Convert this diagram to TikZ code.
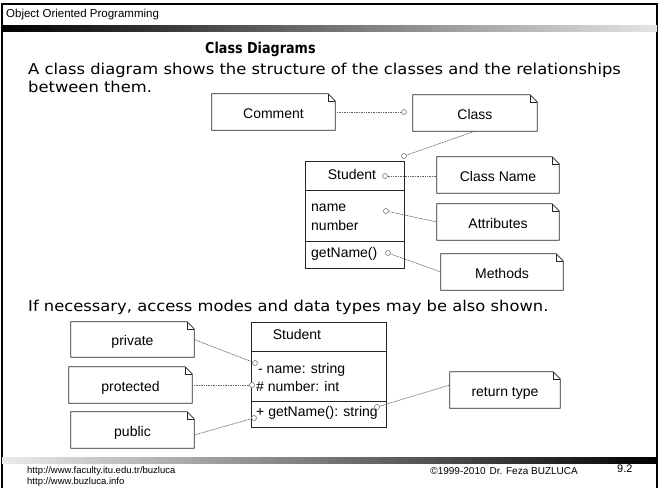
\documentclass[tikz,border=0pt]{standalone}
\usepackage{fontspec}
\setmainfont{Liberation Sans}
\newfontfamily\bodyfont[FakeStretch=1.09]{DejaVu Sans}
\newfontfamily\titlefont[FakeStretch=0.85]{DejaVu Sans}
\newcommand\umlnote[6]{%
  \node[diag, text height=12pt, text depth=0pt, minimum width={#4-#2}, minimum height={#5-#3}] (#1) at ({(#2+#4)/2},{(#3+#5)/2}) {#6};
  \draw[noteline] (#1.north west) -- ([xshift=-7pt]#1.north east) -- ([yshift=-7pt]#1.north east) -- (#1.south east) -- (#1.south west) -- cycle;
  \draw[noteline, line width=0.5pt] ([xshift=-7pt]#1.north east) -- ([xshift=-7pt,yshift=-7pt]#1.north east) -- ([yshift=-7pt]#1.north east);
}
\begin{document}
\begin{tikzpicture}[x=1pt,y=-1pt,
  diag/.style={font=\fontsize{14pt}{16pt}\selectfont, inner sep=0pt},
  noteline/.style={draw=black!85, line width=0.8pt},
  conn/.style={draw=black!60, line width=0.7pt, dash pattern=on 1pt off 0.7pt},
  port/.style={circle, draw=black!60, line width=0.5pt, fill=white, inner sep=0pt, minimum size=5pt},
  classbox/.style={draw=black!85, line width=0.8pt, inner sep=0pt},
  body/.style={font=\bodyfont\fontsize{15pt}{17pt}\selectfont, inner sep=0pt, anchor=west},
  foot/.style={font=\fontsize{9.5pt}{11pt}\selectfont, inner sep=0pt}]
\useasboundingbox[fill=white] (0,0) rectangle (665,488);
% frame and bars
\draw[line width=2pt] (2,488) -- (2,4) -- (657,4) -- (657,488);
\shade[left color=black, right color=black!10] (2,25) rectangle (657,31);
\shade[left color=black!8, right color=black] (2,457) rectangle (657,463);
\node[anchor=west, inner sep=0pt, font=\fontsize{11.5pt}{13pt}\selectfont] (hdr) at (6,15) {Object Oriented Programming};
% title and body text
\node[anchor=west, inner sep=0pt, font=\titlefont\bfseries\fontsize{15pt}{17pt}\selectfont] (title) at (205,49) {Class Diagrams};
\node[body] (line1) at (28,70) {A class diagram shows the structure of the classes and the relationships};
\node[body] (line2) at (28,87) {between them.};
\node[body] (line3) at (28,307) {If necessary, access modes and data types may be also shown.};
% top diagram
\umlnote{cmt}{212}{94}{335}{130}{Comment}
\umlnote{cls}{413}{95}{537}{131}{Class}
\umlnote{cname}{437}{157}{559}{193}{Class Name}
\umlnote{attrs}{437}{204}{559}{240}{Attributes}
\umlnote{meths}{441}{254}{563}{290}{Methods}
\node[classbox, minimum width=99pt, minimum height=107pt] (stud) at (354.5,214.5) {};
\draw[classbox] (305,190) -- (404,190);
\draw[classbox] (305,241) -- (404,241);
\node[diag] (sname) at (352,174) {Student};
\node[diag, anchor=west] (sa1) at (311,208) {name};
\node[diag, anchor=west] (sa2) at (311,225) {number};
\node[diag, anchor=west] (sm1) at (311,254) {getName()};
\node[port] (pa) at (404,112) {};
\node[port] (pb) at (404,156) {};
\node[port] (pc) at (385,176) {};
\node[port] (pd) at (386,211) {};
\node[port] (pe) at (388,253) {};
\draw[conn] (cmt.east |- pa) -- (pa);
\draw[conn] (cls.south) -- (pb);
\draw[conn] (pc) -- (cname.west |- pc);
\draw[conn] (pd) -- (attrs.west);
\draw[conn] (pe) -- (meths.west);
% bottom diagram
\umlnote{priv}{71}{322}{194}{357}{private}
\umlnote{prot}{69}{367}{192}{403}{protected}
\umlnote{pub}{71}{412}{194}{448}{public}
\umlnote{ret}{450}{372}{560}{408}{return type}
\node[classbox, minimum width=135pt, minimum height=105pt] (stud2) at (318.5,374.5) {};
\draw[classbox] (251,351) -- (386,351);
\draw[classbox] (251,401) -- (386,401);
\node[diag] (s2name) at (297,334) {Student};
\node[diag, anchor=west] (s2a1) at (258,370) {- name: string};
\node[diag, anchor=west] (s2a2) at (256,386) {\# number: int};
\node[diag, anchor=west] (s2m1) at (256,413) {+ getName(): string};
\node[port] (pf) at (255,363) {};
\node[port] (pg) at (252,385) {};
\node[port] (ph) at (254,418) {};
\node[port] (pi) at (377,407) {};
\draw[conn] (priv.east) -- (pf);
\draw[conn] (prot.east) -- (pg);
\draw[conn] ([yshift=-5pt]pub.east) -- (ph);
\draw[conn] (pi) -- ([yshift=5pt]ret.west);
% footer
\node[foot, anchor=west] (url1) at (27,471) {http://www.faculty.itu.edu.tr/buzluca};
\node[foot, anchor=west] (url2) at (27,482) {http://www.buzluca.info};
\node[foot, anchor=east, font=\fontsize{10pt}{12pt}\selectfont] (copy) at (578,471) {©1999-2010\hspace{4pt}Dr. Feza BUZLUCA};
\node[foot, anchor=west, font=\fontsize{11pt}{13pt}\selectfont] (page) at (617,469) {9.2};
\end{tikzpicture}
\end{document}
